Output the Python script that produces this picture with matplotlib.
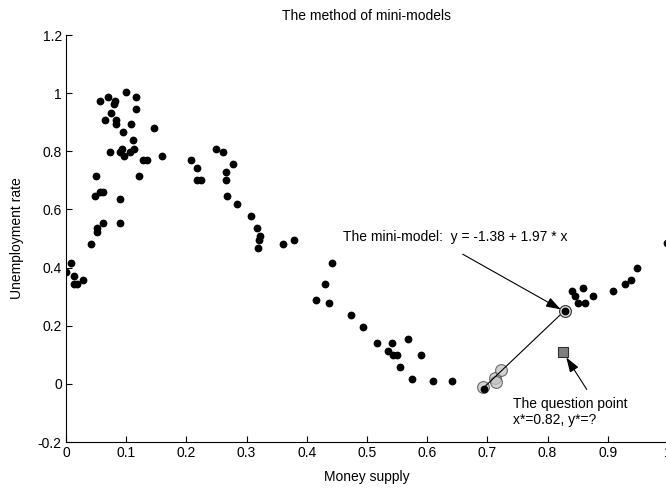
import matplotlib
matplotlib.use('Agg')
import matplotlib.pyplot as plt

plt.rcParams['font.family'] = ['Liberation Sans', 'DejaVu Sans']
plt.rcParams['font.size'] = 10

# data points (money supply, unemployment rate)
money = [0.000, 0.008, 0.014, 0.014, 0.019, 0.028, 0.042, 0.048, 0.050, 0.052,
         0.052, 0.056, 0.057, 0.061, 0.062, 0.065, 0.069, 0.073, 0.075, 0.079,
         0.081, 0.083, 0.083, 0.089, 0.089, 0.089, 0.093, 0.095, 0.097, 0.099,
         0.107, 0.108, 0.111, 0.113, 0.117, 0.117, 0.121, 0.128, 0.134, 0.147,
         0.159, 0.208, 0.218, 0.218, 0.225, 0.249, 0.261, 0.265, 0.265, 0.267,
         0.277, 0.284, 0.307, 0.317, 0.319, 0.321, 0.323, 0.360, 0.378, 0.416,
         0.431, 0.437, 0.442, 0.473, 0.493, 0.517, 0.535, 0.542, 0.544, 0.550,
         0.554, 0.568, 0.575, 0.590, 0.610, 0.642, 0.694, 0.829, 0.841, 0.846,
         0.851, 0.859, 0.862, 0.875, 0.908, 0.928, 0.938, 0.948, 0.998]
unemp = [0.386, 0.415, 0.372, 0.343, 0.343, 0.356, 0.481, 0.646, 0.714, 0.535,
         0.521, 0.974, 0.659, 0.552, 0.659, 0.908, 0.988, 0.797, 0.933, 0.963,
         0.974, 0.908, 0.893, 0.797, 0.635, 0.552, 0.807, 0.867, 0.784, 1.004,
         0.797, 0.893, 0.838, 0.809, 0.988, 0.946, 0.714, 0.771, 0.771, 0.879,
         0.784, 0.771, 0.741, 0.701, 0.701, 0.809, 0.797, 0.730, 0.701, 0.647,
         0.755, 0.619, 0.576, 0.535, 0.468, 0.494, 0.510, 0.481, 0.494, 0.290,
         0.343, 0.277, 0.415, 0.236, 0.195, 0.139, 0.112, 0.139, 0.099, 0.099,
         0.058, 0.153, 0.016, 0.099, 0.010, 0.010, -0.018, 0.250, 0.319, 0.302,
         0.277, 0.331, 0.277, 0.302, 0.319, 0.345, 0.356, 0.398, 0.483]

# nearest neighbours used for the mini-model
nb_x = [0.693, 0.713, 0.714, 0.722]
nb_y = [-0.010, 0.020, 0.006, 0.046]

# mini-model y = a + b*x, drawn between these x
a, b = -1.38, 1.97
line_x = [0.697, 0.829]
model_pt = (0.829, 0.250)

# question point
q_x, q_y = 0.826, 0.110

fig = plt.figure(figsize=(6.66, 4.9), dpi=100)
ax = fig.add_axes([66 / 666, 48 / 490, 602 / 666, 407 / 490])

ax.plot(nb_x, nb_y, 'o', ms=8.5, mfc='#c4c4c4', mec='#404040', mew=0.8, alpha=0.75, zorder=2)
ax.plot(money, unemp, 'o', ms=4.6, color='black', zorder=3)
ax.plot(line_x, [a + b * v for v in line_x], color='black', lw=0.8, zorder=2)
ax.plot(*model_pt, 'o', ms=8.5, mfc='#dddddd', mec='#303030', mew=0.8, zorder=2)
ax.plot(q_x, q_y, 's', ms=7.5, mfc='#7f7f7f', mec='#303030', mew=0.8, zorder=3)

ax.annotate('', xy=(0.822, 0.256), xytext=(0.659, 0.446),
            arrowprops=dict(arrowstyle='-|>,head_length=0.9,head_width=0.3',
                            color='black', lw=0.8, shrinkA=0, shrinkB=0))
ax.annotate('', xy=(0.831, 0.091), xytext=(0.865, -0.019),
            arrowprops=dict(arrowstyle='-|>,head_length=0.9,head_width=0.3',
                            color='black', lw=0.8, shrinkA=0, shrinkB=0))
ax.text(0.460, 0.504, 'The mini-model:  y = -1.38 + 1.97 * x', va='center', ha='left')
ax.text(0.742, -0.097, 'The question point\nx*=0.82, y*=?', va='center', ha='left',
        linespacing=1.2)

ax.set_xlim(0, 1)
ax.set_ylim(-0.2, 1.2)
xt = [i / 10 for i in range(11)]
ax.set_xticks(xt)
ax.set_xticklabels(['0'] + ['%.1f' % v for v in xt[1:-1]] + ['1'])
yt = [-0.2, 0, 0.2, 0.4, 0.6, 0.8, 1.0, 1.2]
ax.set_yticks(yt)
ax.set_yticklabels(['-0.2', '0', '0.2', '0.4', '0.6', '0.8', '1', '1.2'])
ax.tick_params(direction='in', length=4, width=0.8, pad=3)
ax.spines['top'].set_visible(False)
ax.spines['right'].set_visible(False)
ax.set_title('The method of mini-models', fontsize=10, pad=11)
ax.set_xlabel('Money supply', labelpad=7)
ax.set_ylabel('Unemployment rate', labelpad=10)

fig.savefig('out.png', dpi=100)
